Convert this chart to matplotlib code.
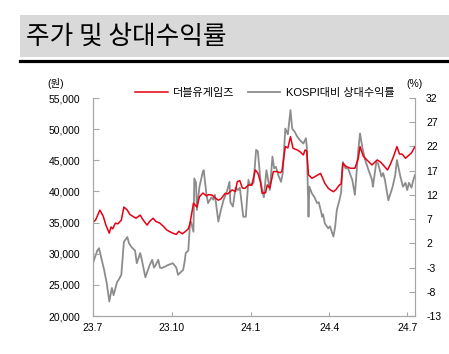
import matplotlib
matplotlib.use("Agg")
import matplotlib.pyplot as plt
from matplotlib.ticker import FuncFormatter
import pandas as pd

plt.rcParams['font.family'] = ['Liberation Sans', 'Noto Sans CJK KR']
plt.rcParams['axes.unicode_minus'] = False

# 더블유게임즈 주가 (원)
price_dates = [
    "2023-07-01", "2023-07-04", "2023-07-09", "2023-07-13", "2023-07-16", "2023-07-20",
    "2023-07-22", "2023-07-24", "2023-07-27", "2023-07-30", "2023-08-03", "2023-08-06",
    "2023-08-10", "2023-08-13", "2023-08-17", "2023-08-20", "2023-08-25", "2023-08-28",
    "2023-09-02", "2023-09-05", "2023-09-09", "2023-09-12", "2023-09-17", "2023-09-21",
    "2023-09-25", "2023-09-29", "2023-10-02", "2023-10-06", "2023-10-09", "2023-10-13",
    "2023-10-16", "2023-10-20", "2023-10-22", "2023-10-26", "2023-10-30", "2023-11-02",
    "2023-11-06", "2023-11-10", "2023-11-13", "2023-11-17", "2023-11-20", "2023-11-24",
    "2023-11-27", "2023-12-02", "2023-12-05", "2023-12-10", "2023-12-14", "2023-12-16",
    "2023-12-19", "2023-12-22", "2023-12-25", "2023-12-29", "2024-01-02", "2024-01-06",
    "2024-01-09", "2024-01-12", "2024-01-14", "2024-01-18", "2024-01-20", "2024-01-23",
    "2024-01-27", "2024-01-31", "2024-02-04", "2024-02-06", "2024-02-10", "2024-02-13",
    "2024-02-16", "2024-02-19", "2024-02-24", "2024-02-27", "2024-03-02", "2024-03-04",
    "2024-03-06", "2024-03-08", "2024-03-10", "2024-03-12", "2024-03-17", "2024-03-22",
    "2024-03-24", "2024-03-27", "2024-03-31", "2024-04-03", "2024-04-06", "2024-04-09",
    "2024-04-13", "2024-04-15", "2024-04-17", "2024-04-21", "2024-04-26", "2024-05-01",
    "2024-05-05", "2024-05-07", "2024-05-11", "2024-05-14", "2024-05-17", "2024-05-21",
    "2024-05-25", "2024-05-27", "2024-05-31", "2024-06-03", "2024-06-08", "2024-06-11",
    "2024-06-15", "2024-06-19", "2024-06-22", "2024-06-25", "2024-06-29", "2024-07-02",
    "2024-07-06", "2024-07-10",
]
price = [
    35100, 35400, 37000, 36000, 34600, 33300,
    34300, 34000, 34900, 34800, 35400, 37500,
    37000, 36300, 35950, 35700, 36200, 35500,
    34600, 35200, 35700, 35200, 34900, 34400,
    33800, 33500, 33300, 33100, 33600, 33200,
    33500, 34000, 34900, 38100, 37500, 39150,
    39750, 39300, 39500, 39400, 39000, 38600,
    38800, 39700, 39600, 40240, 40000, 41570,
    41730, 40550, 40500, 41040, 41000, 43450,
    42960, 41570, 39700, 39800, 41040, 40550,
    43180, 43200, 43000, 43200, 47200, 47000,
    48800, 46930, 46660, 46390, 45860, 46660,
    46500, 42640, 42400, 42110, 42500, 42900,
    42300, 41310, 40510, 40200, 39960, 40300,
    41040, 41200, 44520, 44000, 43720, 43720,
    45330, 47200, 45600, 45200, 44790, 44250,
    44800, 45060, 44700, 44250, 43450, 44250,
    45600, 47200, 46000, 46000, 45330, 45700,
    46200, 47200,
]

# KOSPI대비 상대수익률 (%)
rel_dates = [
    "2023-07-01", "2023-07-03", "2023-07-06", "2023-07-08", "2023-07-10", "2023-07-14",
    "2023-07-17", "2023-07-20", "2023-07-23", "2023-07-25", "2023-07-29", "2023-07-31",
    "2023-08-03", "2023-08-06", "2023-08-10", "2023-08-12", "2023-08-15", "2023-08-19",
    "2023-08-21", "2023-08-25", "2023-08-27", "2023-08-31", "2023-09-03", "2023-09-05",
    "2023-09-08", "2023-09-10", "2023-09-12", "2023-09-15", "2023-09-17", "2023-09-19",
    "2023-09-23", "2023-09-26", "2023-09-29", "2023-10-02", "2023-10-06", "2023-10-08",
    "2023-10-12", "2023-10-14", "2023-10-16", "2023-10-17", "2023-10-20", "2023-10-22",
    "2023-10-23", "2023-10-26", "2023-10-27", "2023-10-29", "2023-10-30", "2023-11-02",
    "2023-11-06", "2023-11-07", "2023-11-10", "2023-11-12", "2023-11-16", "2023-11-18",
    "2023-11-20", "2023-11-24", "2023-11-27", "2023-11-30", "2023-12-04", "2023-12-07",
    "2023-12-08", "2023-12-11", "2023-12-14", "2023-12-17", "2023-12-19", "2023-12-23",
    "2023-12-26", "2023-12-29", "2023-12-31", "2024-01-04", "2024-01-07", "2024-01-09",
    "2024-01-12", "2024-01-14", "2024-01-16", "2024-01-19", "2024-01-21", "2024-01-23",
    "2024-01-26", "2024-01-28", "2024-01-30", "2024-02-02", "2024-02-05", "2024-02-07",
    "2024-02-10", "2024-02-13", "2024-02-16", "2024-02-18", "2024-02-21", "2024-02-24",
    "2024-02-27", "2024-03-02", "2024-03-05", "2024-03-06", "2024-03-08", "2024-03-09",
    "2024-03-12", "2024-03-15", "2024-03-18", "2024-03-20", "2024-03-24", "2024-03-25",
    "2024-03-27", "2024-03-31", "2024-04-02", "2024-04-06", "2024-04-08", "2024-04-10",
    "2024-04-13", "2024-04-15", "2024-04-17", "2024-04-20", "2024-04-23", "2024-04-28",
    "2024-05-01", "2024-05-05", "2024-05-07", "2024-05-10", "2024-05-13", "2024-05-17",
    "2024-05-21", "2024-05-22", "2024-05-26", "2024-05-28", "2024-06-01", "2024-06-03",
    "2024-06-05", "2024-06-09", "2024-06-14", "2024-06-17", "2024-06-19", "2024-06-23",
    "2024-06-26", "2024-06-29", "2024-07-01", "2024-07-03", "2024-07-06", "2024-07-08",
    "2024-07-10",
]
rel_return = [
    -2.1, -1.0, 0.5, 1.0, -0.5, -3.5,
    -6.2, -10.0, -7.2, -8.7, -6.0, -5.5,
    -4.5, 2.3, 3.3, 2.0, 1.2, 0.5,
    -2.1, 0.0, -1.5, -5.0, -3.5, -2.5,
    -1.4, -3.0, -2.5, -1.4, -3.0, -3.1,
    -2.8, -2.5, -2.3, -2.1, -3.0, -4.5,
    -3.8, -3.5, -1.5, 0.0, 0.5, 6.2,
    6.5, 4.4, 15.4, 14.5, 8.9, 13.7,
    16.8, 17.1, 12.3, 10.3, 11.5, 11.0,
    12.0, 6.5, 8.9, 10.9, 12.7, 14.7,
    10.5, 9.6, 13.5, 13.0, 13.5, 7.5,
    7.5, 15.1, 14.0, 14.5, 21.3, 21.0,
    15.1, 13.0, 11.5, 17.1, 15.0, 13.0,
    19.9, 17.5, 17.8, 16.0, 14.7, 16.5,
    25.7, 24.5, 29.5, 25.7, 25.0, 24.0,
    23.3, 22.6, 23.7, 22.0, 7.5, 13.7,
    12.3, 11.5, 10.3, 10.5, 7.5, 8.0,
    6.1, 5.1, 5.5, 3.4, 5.4, 8.9,
    10.9, 12.5, 18.8, 17.5, 17.5, 15.1,
    12.0, 21.3, 24.7, 21.5, 19.2, 17.1,
    15.1, 13.7, 18.8, 18.5, 15.8, 16.5,
    15.1, 10.9, 13.7, 16.1, 19.2, 15.8,
    13.7, 14.5, 13.0, 14.5, 13.5, 15.0,
    16.1,
]

tick_dates = ["2023-07-01", "2023-10-01", "2024-01-01", "2024-04-01", "2024-07-01"]
tick_labels = ["23.7", "23.10", "24.1", "24.4", "24.7"]

price_dates = pd.to_datetime(price_dates)
rel_dates = pd.to_datetime(rel_dates)

fig = plt.figure(figsize=(4.49, 3.54), dpi=100)

# title band
fig.patches.append(plt.Rectangle((0.045, 0.839), 0.955, 0.119, transform=fig.transFigure,
                                 facecolor="#D9D9D9", edgecolor="none"))
fig.add_artist(plt.Line2D([0.045, 1.0], [0.829, 0.829], transform=fig.transFigure,
                          color="black", linewidth=2.3))
fig.text(0.058, 0.897, "주가 및 상대수익률", fontsize=18.5, va="center", ha="left",
         family=["Noto Sans CJK KR", "DejaVu Sans"])

ax = fig.add_axes([0.2071, 0.1073, 0.7171, 0.6158])
ax2 = ax.twinx()

ax2.plot(rel_dates, rel_return, color="#8C8C8C", linewidth=1.3, label="KOSPI대비 상대수익률")
ax.plot(price_dates, price, color="#E60012", linewidth=1.1, label="더블유게임즈")
ax.set_zorder(ax2.get_zorder() + 1)
ax.patch.set_visible(False)

ax.set_xlim(pd.Timestamp("2023-07-01"), pd.Timestamp("2024-07-10"))
ax.set_ylim(20000, 55000)
ax.set_yticks(range(20000, 55001, 5000))
ax.yaxis.set_major_formatter(FuncFormatter(lambda v, p: f"{int(v):,}"))
ax2.set_ylim(-13, 32)
ax2.set_yticks(range(-13, 33, 5))

ax.set_xticks(pd.to_datetime(tick_dates))
ax.set_xticklabels(tick_labels)

spine_col = "#A6A6A6"
for a in (ax, ax2):
    a.spines["top"].set_visible(False)
    for s in ("left", "right", "bottom"):
        a.spines[s].set_color(spine_col)
ax.tick_params(axis="y", direction="in", length=4, color=spine_col, labelsize=7.5, pad=9)
ax.tick_params(axis="x", direction="in", length=3, color=spine_col, labelsize=7.5, pad=5)
ax2.tick_params(axis="y", direction="in", length=4, color=spine_col, labelsize=7.5, pad=8)

fig.text(0.123, 0.765, "(원)", fontsize=7.5, ha="center", va="center")
fig.text(0.924, 0.763, "(%)", fontsize=7.5, ha="center", va="center")

h1, l1 = ax.get_legend_handles_labels()
h2, l2 = ax2.get_legend_handles_labels()
fig.legend(h1 + h2, l1 + l2, loc="center", bbox_to_anchor=(0.59, 0.738), ncol=2,
           frameon=False, fontsize=8, handlelength=2.9, handletextpad=0.5,
           columnspacing=1.2)

fig.savefig("out.png", dpi=100)
